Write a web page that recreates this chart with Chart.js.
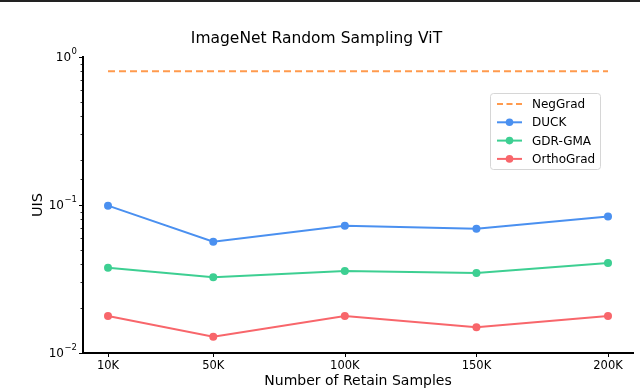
<!DOCTYPE html>
<html>
  <head>
    <title>ImageNet Random Sampling ViT</title>
    <script src="https://cdn.jsdelivr.net/npm/chart.js"></script>
    <style>
      body { margin: 0; background: #fff; }
      .chart-container { width: 640px; height: 388px; }
    </style>
  </head>
  <body>
    <div class="chart-container">
      <canvas id="uis-chart"></canvas>
    </div>

    <script>
      // retain samples (in thousands)
      const retainSamples = [10, 50, 100, 150, 200];
      const xTickLabels = ['10K', '50K', '100K', '150K', '200K'];
      const yDecades = [-2, -1, 0];

      const negGrad = [0.80, 0.80, 0.80, 0.80, 0.80];
      const duck = [0.099, 0.0565, 0.0725, 0.069, 0.0835];
      const gdrGma = [0.0377, 0.0325, 0.0358, 0.0347, 0.0406];
      const orthoGrad = [0.0178, 0.0129, 0.0178, 0.0149, 0.0178];

      const FONT = '"DejaVu Sans", sans-serif';

      function toPoints(values) {
        return retainSamples.map((x, i) => ({ x: x, y: values[i] }));
      }

      const series = [
        { label: 'NegGrad', values: negGrad, color: '#ff9a4d', dashed: true },
        { label: 'DUCK', values: duck, color: '#4a90f0' },
        { label: 'GDR-GMA', values: gdrGma, color: '#3dcf92' },
        { label: 'OrthoGrad', values: orthoGrad, color: '#f8666b' }
      ];

      // draws tick marks, y labels with exponents, legend, top frame line
      const extras = {
        id: 'extras',
        afterDraw(chart) {
          const ctx = chart.ctx;
          const area = chart.chartArea;
          const xs = chart.scales.x;
          const ys = chart.scales.y;
          ctx.save();
          ctx.fillStyle = '#222';
          ctx.fillRect(0, 0, chart.width, 2);

          ctx.strokeStyle = '#000';
          // y ticks (major + minor)
          ys.ticks.forEach(t => {
            const py = Math.round(ys.getPixelForValue(t.value)) + 0.5;
            const major = Math.abs(Math.log10(t.value) - Math.round(Math.log10(t.value))) < 1e-9;
            ctx.lineWidth = major ? 1 : 0.8;
            ctx.beginPath();
            ctx.moveTo(area.left - (major ? 4 : 2.5), py);
            ctx.lineTo(area.left, py);
            ctx.stroke();
          });
          // x ticks
          ctx.lineWidth = 1;
          retainSamples.forEach(v => {
            const px = Math.round(xs.getPixelForValue(v)) + 0.5;
            ctx.beginPath();
            ctx.moveTo(px, area.bottom);
            ctx.lineTo(px, area.bottom + 4);
            ctx.stroke();
          });

          // y tick labels 10^k, exponent drawn smaller and raised
          ctx.fillStyle = '#000';
          ctx.textBaseline = 'middle';
          yDecades.forEach(k => {
            const py = ys.getPixelForValue(Math.pow(10, k));
            const exp = k < 0 ? '\u2212' + (-k) : String(k);
            ctx.font = '8.5px ' + FONT;
            const ew = ctx.measureText(exp).width;
            const right = area.left - 6;
            ctx.textAlign = 'right';
            ctx.fillText(exp, right, py - 5);
            ctx.font = '12px ' + FONT;
            ctx.fillText('10', right - ew - 0.5, py + 1);
          });

          // legend
          const lx = 490, ly = 93, lw = 110, lh = 76;
          ctx.fillStyle = 'rgba(255,255,255,0.8)';
          ctx.strokeStyle = '#d6d6d6';
          ctx.lineWidth = 1;
          ctx.beginPath();
          ctx.roundRect(lx + 0.5, ly + 0.5, lw, lh, 3);
          ctx.fill();
          ctx.stroke();
          ctx.font = '12px ' + FONT;
          ctx.textAlign = 'left';
          series.forEach((s, i) => {
            const ry = ly + 11 + i * 18.3;
            ctx.strokeStyle = s.color;
            ctx.lineWidth = 2;
            ctx.setLineDash(s.dashed ? [6, 3.5] : []);
            ctx.beginPath();
            ctx.moveTo(lx + 7, ry);
            ctx.lineTo(lx + 32, ry);
            ctx.stroke();
            ctx.setLineDash([]);
            if (!s.dashed) {
              ctx.fillStyle = s.color;
              ctx.beginPath();
              ctx.arc(lx + 19.5, ry, 3.8, 0, Math.PI * 2);
              ctx.fill();
            }
            ctx.fillStyle = '#000';
            ctx.fillText(s.label, lx + 42, ry + 1);
          });
          ctx.restore();
        }
      };

      const ctx = document.getElementById('uis-chart').getContext('2d');
      new Chart(ctx, {
        type: 'line',
        data: {
          datasets: series.map(s => ({
            label: s.label,
            data: toPoints(s.values),
            borderColor: s.color,
            backgroundColor: s.color,
            borderWidth: 2,
            borderDash: s.dashed ? [7, 4] : [],
            pointRadius: s.dashed ? 0 : 4,
            pointBorderWidth: 0,
            tension: 0,
            fill: false
          }))
        },
        options: {
          responsive: true,
          maintainAspectRatio: false,
          animation: false,
          layout: { padding: { top: 0, right: 7, left: 0, bottom: 0 } },
          plugins: {
            legend: { display: false },
            tooltip: { enabled: false },
            title: {
              display: true,
              text: 'ImageNet Random Sampling ViT',
              color: '#000',
              font: { family: FONT, size: 15.5, weight: 'normal' },
              padding: { top: 30, bottom: 8.4 }
            }
          },
          scales: {
            x: {
              type: 'linear',
              min: 0.5,
              max: 209.5,
              afterBuildTicks: s => { s.ticks = retainSamples.map(v => ({ value: v })); },
              afterFit: s => { s.height = 35; },
              grid: { display: false, drawTicks: false },
              border: { display: true, color: '#000', width: 2 },
              ticks: {
                color: '#000',
                padding: 6,
                font: { family: FONT, size: 11.5 },
                callback: v => xTickLabels[retainSamples.indexOf(v)]
              },
              title: {
                display: true,
                text: 'Number of Retain Samples',
                color: '#000',
                font: { family: FONT, size: 14 },
                padding: { top: 0, bottom: -2 }
              }
            },
            y: {
              type: 'logarithmic',
              min: 0.01,
              max: 1,
              afterFit: s => { s.width = 83; },
              grid: { display: false, drawTicks: false },
              border: { display: true, color: '#000', width: 2 },
              ticks: { display: false },
              title: {
                display: true,
                text: 'UIS',
                color: '#000',
                font: { family: FONT, size: 14.5 },
                padding: { top: 30, bottom: 0 }
              }
            }
          }
        },
        plugins: [extras]
      });
    </script>
  </body>
</html>
